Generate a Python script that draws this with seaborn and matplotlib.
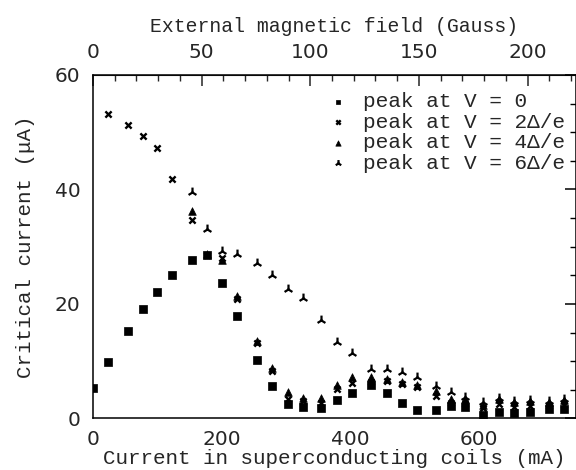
import pandas as pd
import seaborn as sns
import matplotlib
matplotlib.use("Agg")
import matplotlib.pyplot as plt
from matplotlib.ticker import MultipleLocator, FixedLocator

# Coil current (mA) at which the peaks were measured
current_ma = [0, 24, 54, 77, 99, 123, 154, 178, 201, 224, 255, 279, 303, 326, 355,
              379, 402, 433, 457, 481, 504, 533, 557, 579, 607, 632, 655, 679, 709, 733]

# Critical current (uA) for each peak
peak_v0 = [5.3, 9.8, 15.2, 19.1, 22.1, 25.1, 27.6, 28.6, 23.6, 17.9, 10.2, 5.6, 2.5, 2.0, 1.8,
           3.2, 4.4, 5.9, 4.4, 2.7, 1.5, 1.5, 2.1, 2.0, 0.6, 1.2, 0.9, 1.2, 1.6, 1.6]
peak_v2 = [53.2, 51.3, 49.3, 47.2, 41.8, 34.6, 28.6, 28.0, 20.8, 13.2, 8.3, 3.4, 3.0, 2.7,
           5.2, 6.2, 6.4, 6.5, 6.1, 5.5, 3.9, 2.7, 2.5, 1.8, 2.6, 2.0, 2.2, 2.2, 2.4]
peak_v4 = [36.2, 28.8, 27.7, 21.4, 13.6, 8.9, 4.7, 3.6, 3.6, 5.8, 7.3, 7.2,
           6.9, 6.4, 5.8, 4.8, 3.4, 3.4, 2.4, 3.4, 2.9, 3.0, 2.9, 3.2]
peak_v6 = [39.6, 33.1, 29.2, 28.7, 27.2, 25.0, 22.6, 21.0, 17.2, 13.4, 11.4, 8.6,
           8.6, 8.2, 7.2, 5.7, 4.7, 3.8, 2.8, 3.6, 3.1, 3.2, 3.1, 3.4]

labels = ["peak at V = 0", "peak at V = 2Δ/e", "peak at V = 4Δ/e", "peak at V = 6Δ/e"]

# top axis: magnetic field (Gauss)
gauss_per_ma = 0.296
gauss_major = [0, 50, 100, 150, 200]
gauss_minor = list(range(0, 221, 10))

series = [
    (current_ma, peak_v0, "s", 26, 0.5),
    (current_ma[1:], peak_v2, "x", 20, 1.7),
    (current_ma[6:], peak_v4, "^", 30, 0.5),
    (current_ma[6:], peak_v6, "2", 50, 1.6),
]

sns.set_style("white")
plt.rcParams["font.family"] = ["DejaVu Sans"]

fig = plt.figure(figsize=(5.76, 4.70), dpi=100)
ax = fig.add_axes([0.1615, 0.1096, 0.8385, 0.7309])

handles = []
for (xs, ys, mk, size, lw), lab in zip(series, labels):
    df = pd.DataFrame({"current": xs, "ic": ys})
    sns.scatterplot(data=df, x="current", y="ic", marker=mk, s=size, color="black",
                    edgecolor="black", linewidth=lw, ax=ax)
    handles.append(ax.collections[-1])

ax.set_xlim(0, 751)
ax.set_ylim(0, 60)

mono = ["Liberation Mono", "DejaVu Sans Mono"]
ax.set_xlabel("Current in superconducting coils (mA)", family=mono, fontsize=15, labelpad=0)
ax.set_ylabel("Critical current (μA)", family=mono, fontsize=15, labelpad=14)

ax.xaxis.set_major_locator(MultipleLocator(200))
ax.xaxis.set_minor_locator(MultipleLocator(50))
ax.yaxis.set_major_locator(MultipleLocator(20))
ax.yaxis.set_minor_locator(MultipleLocator(5))
ax.tick_params(which="both", direction="in", right=True, top=False, labelsize=14.5, color="black")
ax.tick_params(which="major", length=8, width=1.1)
ax.tick_params(which="minor", length=4, width=1.0)
ax.tick_params(axis="x", pad=8)
ax.tick_params(axis="y", pad=9)

top = ax.secondary_xaxis("top", functions=(lambda x: x * gauss_per_ma, lambda g: g / gauss_per_ma))
top.xaxis.set_major_locator(FixedLocator(gauss_major))
top.xaxis.set_minor_locator(FixedLocator(gauss_minor))
top.tick_params(which="both", direction="in", labelsize=14.5, pad=9)
top.tick_params(which="major", length=8, width=1.1)
top.tick_params(which="minor", length=4, width=1.0)
top.set_xlabel("External magnetic field (Gauss)", family=mono, fontsize=14.2, labelpad=8)

for sp in ax.spines.values():
    sp.set_color("black")
    sp.set_linewidth(1.1)

ax.legend(handles, labels, loc="upper left", bbox_to_anchor=(0.485, 0.95), frameon=False,
          prop={"family": mono, "size": 15.2}, markerscale=0.7, handlelength=1.0,
          handletextpad=0.7, labelspacing=0.07, borderpad=0, borderaxespad=0)

fig.savefig("out.png", dpi=100)
